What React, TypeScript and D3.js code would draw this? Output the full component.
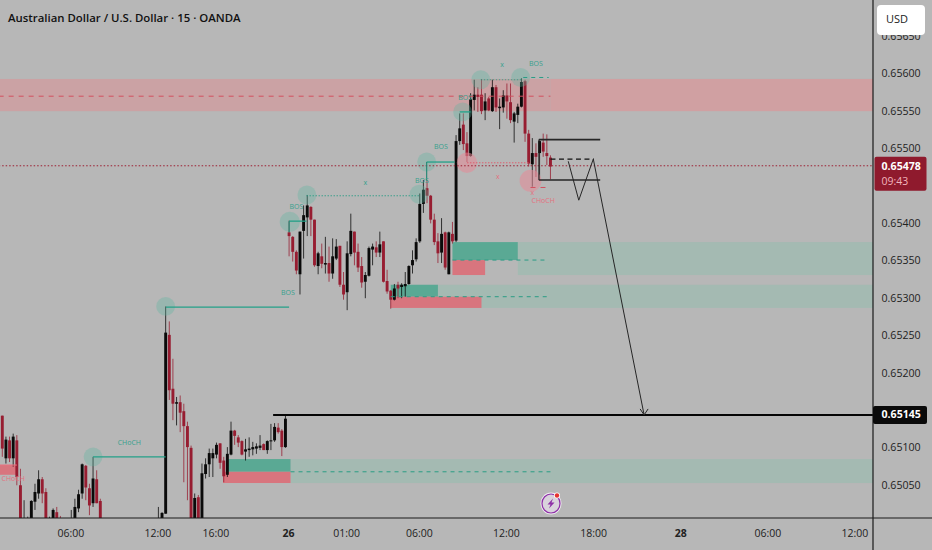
import { useEffect, useRef } from "react";
import * as d3 from "d3";

// 15 min bars, index 0 is the left edge of the picture. Prices in 1e-5 units.
const opens = [
  65144, 65087, 65111, 65087, 65111, 65051, 64985, 64990, 64995, 65029, 65040, 65059, 65042, 64990, 64995, 65015, 65000, 64970, 64975, 64985,
  64995, 65020, 65040, 65077, 65047, 65027, 65059, 65030, 64990, 64970, 64960, 64975, 64950, 64965, 64955, 64970, 64960, 64945, 64960, 64970,
  64965, 64975, 64970, 64985, 64995, 65013, 65252, 65180, 65160, 65162, 65150, 65130, 65101, 64995, 65035, 64995, 65066, 65079, 65087, 65092,
  65107, 65084, 65065, 65092, 65124, 65115, 65110, 65096, 65098, 65099, 65100, 65101, 65106, 65098, 65110, 65111, 65128, 65124, 65102, 65389,
  65383, 65363, 65333, 65391, 65409, 65423, 65406, 65344, 65357, 65346, 65348, 65334, 65354, 65371, 65319, 65309, 65360, 65390, 65363, 65344,
  65323, 65331, 65366, 65369, 65362, 65377, 65324, 65311, 65299, 65319, 65316, 65317, 65320, 65345, 65353, 65377, 65427, 65448, 65438, 65406,
  65377, 65362, 65389, 65333, 65387, 65378, 65511, 65533, 65508, 65491, 65566, 65573, 65573, 65552, 65568, 65551, 65583, 65555, 65556, 65572,
  65563, 65537, 65546, 65557, 65591, 65521, 65480, 65495, 65495, 65509, 65495, 65489,
];
const closes = [
  65100, 65112, 65087, 65116, 65062, 65000, 64995, 65000, 65030, 65042, 65059, 65040, 64998, 65000, 65018, 64995, 64990, 64980, 64985, 65000,
  65022, 65039, 65079, 65048, 65024, 65060, 65027, 64995, 64980, 64960, 64972, 64950, 64964, 64955, 64968, 64960, 64946, 64958, 64970, 64965,
  64975, 64968, 64982, 64995, 65014, 65255, 65178, 65160, 65162, 65148, 65130, 65102, 64995, 65034, 64995, 65067, 65079, 65094, 65094, 65105,
  65081, 65063, 65093, 65124, 65117, 65108, 65092, 65099, 65100, 65102, 65103, 65104, 65098, 65110, 65111, 65129, 65122, 65102, 65140, 65384,
  65363, 65338, 65390, 65412, 65425, 65406, 65345, 65361, 65347, 65348, 65334, 65357, 65370, 65319, 65306, 65361, 65391, 65362, 65342, 65322,
  65332, 65368, 65370, 65362, 65373, 65323, 65310, 65299, 65314, 65314, 65319, 65320, 65344, 65352, 65376, 65427, 65446, 65438, 65406, 65376,
  65361, 65387, 65342, 65389, 65377, 65511, 65528, 65507, 65491, 65567, 65573, 65570, 65551, 65564, 65552, 65583, 65556, 65557, 65572, 65564,
  65539, 65548, 65557, 65590, 65521, 65481, 65495, 65490, 65511, 65497, 65491, 65477,
];
const highs = [
  65144, 65116, 65116, 65120, 65118, 65073, 65031, 65009, 65031, 65053, 65071, 65062, 65047, 65009, 65020, 65022, 65010, 64990, 64992, 65018,
  65033, 65045, 65080, 65078, 65053, 65089, 65071, 65033, 64995, 64985, 64980, 64982, 64975, 64975, 64978, 64978, 64968, 64965, 64978, 64980,
  64985, 64985, 64990, 65022, 65015, 65290, 65270, 65220, 65169, 65171, 65160, 65136, 65104, 65040, 65038, 65080, 65087, 65100, 65100, 65108,
  65107, 65089, 65102, 65136, 65125, 65118, 65111, 65113, 65115, 65109, 65107, 65118, 65107, 65111, 65133, 65134, 65134, 65126, 65145, 65405,
  65384, 65365, 65390, 65425, 65439, 65424, 65406, 65363, 65374, 65383, 65370, 65381, 65380, 65371, 65336, 65377, 65414, 65390, 65374, 65356,
  65336, 65370, 65374, 65377, 65390, 65377, 65339, 65312, 65320, 65323, 65321, 65336, 65345, 65365, 65381, 65441, 65459, 65459, 65439, 65414,
  65388, 65408, 65390, 65390, 65403, 65519, 65548, 65548, 65523, 65575, 65593, 65583, 65594, 65575, 65570, 65593, 65586, 65568, 65579, 65588,
  65588, 65550, 65561, 65595, 65593, 65526, 65515, 65508, 65512, 65521, 65520, 65492,
];
const lows = [
  65089, 65080, 65082, 65076, 65051, 64990, 64980, 64980, 64980, 65018, 65033, 65027, 64985, 64980, 64985, 64985, 64980, 64960, 64965, 64975,
  64985, 65015, 65033, 65031, 65011, 65022, 65027, 64985, 64970, 64950, 64950, 64940, 64945, 64945, 64950, 64950, 64935, 64940, 64950, 64955,
  64955, 64960, 64960, 64975, 64985, 65013, 65165, 65138, 65131, 65122, 65055, 65031, 64985, 64985, 64985, 64985, 65060, 65062, 65062, 65087,
  65073, 65055, 65062, 65091, 65105, 65102, 65091, 65084, 65089, 65091, 65093, 65098, 65098, 65093, 65098, 65109, 65120, 65090, 65101, 65357,
  65350, 65333, 65306, 65354, 65384, 65384, 65343, 65333, 65341, 65334, 65323, 65327, 65352, 65316, 65299, 65285, 65357, 65345, 65336, 65315,
  65301, 65330, 65345, 65356, 65356, 65322, 65307, 65287, 65298, 65301, 65301, 65303, 65319, 65334, 65350, 65375, 65415, 65428, 65401, 65372,
  65348, 65348, 65339, 65333, 65374, 65376, 65506, 65499, 65483, 65490, 65552, 65550, 65547, 65539, 65551, 65550, 65550, 65527, 65549, 65541,
  65535, 65509, 65535, 65556, 65510, 65477, 65450, 65463, 65459, 65490, 65479, 65460,
];

const timeTicks = [19, 43, 59, 79, 95, 115, 139, 163, 187, 211, 235];
const timeLabels = ["06:00", "12:00", "16:00", "26", "01:00", "06:00", "12:00", "18:00", "28", "06:00", "12:00"];
const boldTimes = ["26", "28"];

const priceTicks = [65050, 65100, 65200, 65250, 65300, 65350, 65400, 65500, 65550, 65600, 65650];
const lastPrice = 65478;
const targetPrice = 65145;

// [bar from, bar to, price top, price bottom]
const lightZones = [
  [142, 240.5, 65376, 65332],
  [120, 240.5, 65319, 65288],
  [79.4, 240.5, 65086, 65054],
];
const greenBlocks = [
  [124, 142, 65376, 65352],
  [107, 120, 65319, 65303],
  [62.2, 79.4, 65086, 65069],
];
const redBlocks = [
  [124, 133, 65352, 65332],
  [107, 132, 65303, 65288],
  [60.8, 79.4, 65069, 65054],
  [-1, 3.8, 65078, 65065],
];
const supplyZone = [-1, 151, 65594, 65551];
const supplyExtension = [151, 240.5, 65594, 65551];

// [bar from, bar to, price]
const tealSolid = [
  [45.1, 79, 65289],
  [25, 45, 65089],
  [79, 83.8, 65404],
  [116.9, 124.6, 65483],
  [126, 129, 65550],
];
const tealDashed = [
  [124, 150, 65352],
  [107, 151, 65303],
  [79.4, 151, 65069],
  [143.5, 150.5, 65596],
];
const tealDotted = [
  [83.8, 115, 65438],
  [131.8, 143, 65593],
];
const redDotted = [[128, 145.5, 65482]];
const redDashed = [
  [-1, 151, 65571],
  [145.5, 150, 65449],
];
const redSolid = [[-1, 4, 65078]];

// [bar, price, radius in bars]
const tealCircles = [
  [45, 65290, 2.6],
  [25, 65089, 2.6],
  [79.2, 65403, 2.8],
  [83.9, 65439, 2.6],
  [114.8, 65440, 2.6],
  [116.9, 65483, 2.6],
  [126.8, 65550, 2.6],
  [131.8, 65593, 2.6],
  [142.8, 65596, 2.6],
];
const redCircles = [
  [128, 65482, 2.8],
  [145.5, 65458, 3],
];

// [label, bar, price]
const tealLabels = [
  ["BOS", 78.7, 65308],
  ["BOS", 81, 65423],
  ["BOS", 115.6, 65458],
  ["BOS", 120.8, 65503],
  ["BOS", 127.5, 65569],
  ["BOS", 147, 65614],
  ["CHoCH", 35, 65107],
  ["x", 100, 65455],
  ["x", 137.7, 65612],
];
const redLabels = [
  ["CHoCH", 3, 65059],
  ["CHoCH", 149, 65431],
  ["x", 136.5, 65463],
  ["x", 146, 65442],
];

// black drawing: rectangle, dashed midline, the projected swing and the arrow
const boxBars = [147.8, 164.7];
const boxPrices = [65513, 65459];
const midDash = [151, 163, 65487];
const swingBars = [155.9, 158.8, 162.8, 176.8];
const swingPrices = [65484, 65432, 65487, 65145];

const W = 932;
const H = 550;
const plotRight = 873;
const plotBottom = 518;

const App = () => {
  const svgRef = useRef<SVGSVGElement | null>(null);

  useEffect(() => {
    const svg = d3.select(svgRef.current);
    svg.selectAll("*").remove();

    const x = d3.scaleLinear().domain([0, 235]).range([2.3, 855.4]);
    const y = d3.scaleLinear().domain([65600, 65050]).range([74.5, 486]);
    const barStep = x(1) - x(0);
    const font = "'Open Sans', 'Noto Sans', sans-serif";

    svg.append("rect").attr("width", W).attr("height", H).attr("fill", "#b7b7b7");

    svg
      .append("defs")
      .append("clipPath")
      .attr("id", "plot")
      .append("rect")
      .attr("width", plotRight)
      .attr("height", plotBottom);

    const g = svg.append("g").attr("clip-path", "url(#plot)");

    const rects = (rows: number[][], fill: string, opacity = 1) => {
      g.append("g")
        .selectAll("rect")
        .data(rows)
        .enter()
        .append("rect")
        .attr("x", (d) => x(d[0]))
        .attr("width", (d) => x(d[1]) - x(d[0]))
        .attr("y", (d) => y(d[2]))
        .attr("height", (d) => y(d[3]) - y(d[2]))
        .attr("fill", fill)
        .attr("fill-opacity", opacity);
    };

    rects([supplyZone], "#d29a9c", 0.72);
    rects([supplyExtension], "#d69a9c", 0.8);
    rects(lightZones, "#9cbbb0", 0.72);
    rects(greenBlocks, "#5aa994");
    rects(redBlocks, "#d8757e");

    const circles = (rows: number[][], fill: string, opacity: number) => {
      g.append("g")
        .selectAll("circle")
        .data(rows)
        .enter()
        .append("circle")
        .attr("cx", (d) => x(d[0]))
        .attr("cy", (d) => y(d[1]))
        .attr("r", (d) => d[2] * barStep)
        .attr("fill", fill)
        .attr("fill-opacity", opacity);
    };

    // candles
    const bars = d3.range(opens.length);
    const upColor = "#0a0a0a";
    const downColor = "#971d31";
    const colorOf = (i: number) => (closes[i] >= opens[i] ? upColor : downColor);

    const candles = g.append("g");
    candles
      .selectAll("line")
      .data(bars)
      .enter()
      .append("line")
      .attr("x1", (i) => x(i))
      .attr("x2", (i) => x(i))
      .attr("y1", (i) => y(highs[i]))
      .attr("y2", (i) => y(lows[i]))
      .attr("stroke", colorOf)
      .attr("stroke-opacity", 0.78)
      .attr("stroke-width", 1);
    candles
      .selectAll("rect")
      .data(bars)
      .enter()
      .append("rect")
      .attr("x", (i) => x(i) - 1.45)
      .attr("width", 2.9)
      .attr("y", (i) => y(Math.max(opens[i], closes[i])))
      .attr("height", (i) => Math.max(1, Math.abs(y(opens[i]) - y(closes[i]))))
      .attr("fill", colorOf);

    circles(tealCircles, "#5cb5a0", 0.33);
    circles(redCircles, "#e58b97", 0.55);

    // levels
    const levels = (
      rows: number[][],
      color: string,
      width: number,
      dash: string | null,
      opacity = 1
    ) => {
      g.append("g")
        .selectAll("line")
        .data(rows)
        .enter()
        .append("line")
        .attr("x1", (d) => x(d[0]))
        .attr("x2", (d) => x(d[1]))
        .attr("y1", (d) => y(d[2]))
        .attr("y2", (d) => y(d[2]))
        .attr("stroke", color)
        .attr("stroke-width", width)
        .attr("stroke-dasharray", dash)
        .attr("stroke-opacity", opacity);
    };

    levels(tealSolid, "#23a088", 1.3, null);
    levels(tealDashed, "#2b9c85", 1, "4 4");
    levels(tealDotted, "#2b9c85", 1.1, "1.5 1.5", 0.85);
    levels(redSolid, "#e8717f", 1.1, null);
    levels(redDashed, "#d2505f", 1, "5 5");
    levels(redDotted, "#dd5f70", 1, "1.5 1.5");
    levels([[-1, 241, lastPrice]], "#9c1f33", 1, "1.5 2");
    levels([[74.6, 241, targetPrice]], "#050505", 2, null);

    // small steps dropping from the level lines
    const stepLines = [
      [79, 65404, 65389],
      [116.9, 65483, 65458],
    ];
    g.append("g")
      .selectAll("line")
      .data(stepLines)
      .enter()
      .append("line")
      .attr("x1", (d) => x(d[0]))
      .attr("x2", (d) => x(d[0]))
      .attr("y1", (d) => y(d[1]))
      .attr("y2", (d) => y(d[2]))
      .attr("stroke", "#1f8672")
      .attr("stroke-width", 1.1);

    const notes = (rows: (string | number)[][], color: string) => {
      g.append("g")
        .selectAll("text")
        .data(rows)
        .enter()
        .append("text")
        .attr("x", (d) => x(d[1] as number))
        .attr("y", (d) => y(d[2] as number))
        .attr("text-anchor", "middle")
        .attr("dominant-baseline", "middle")
        .attr("font-family", font)
        .attr("font-size", 7)
        .attr("fill", color)
        .text((d) => d[0] as string);
    };
    notes(tealLabels, "#36a08d");
    notes(redLabels, "#e3707f");

    // black drawing
    const ink = "#262626";
    levels(
      [
        [boxBars[0], boxBars[1], boxPrices[0]],
        [boxBars[0], boxBars[1], boxPrices[1]],
      ],
      ink,
      1.6,
      null
    );
    g.append("line")
      .attr("x1", x(boxBars[0]))
      .attr("x2", x(boxBars[0]))
      .attr("y1", y(boxPrices[0]))
      .attr("y2", y(boxPrices[1]))
      .attr("stroke", ink)
      .attr("stroke-width", 1);
    levels([midDash], "#111", 1.2, "5 3.5");

    const swing = d3
      .line<number>()
      .x((b) => x(b))
      .y((_, i) => y(swingPrices[i]));
    g.append("path")
      .attr("d", swing(swingBars))
      .attr("fill", "none")
      .attr("stroke", ink)
      .attr("stroke-width", 1);

    // arrow head at the end of the swing
    const tipX = x(swingBars[3]);
    const tipY = y(swingPrices[3]);
    g.append("path")
      .attr("d", `M${tipX - 4},${tipY - 6}L${tipX},${tipY}L${tipX + 4},${tipY - 6}`)
      .attr("fill", "none")
      .attr("stroke", ink)
      .attr("stroke-width", 1);

    // frame
    svg
      .append("line")
      .attr("x1", plotRight)
      .attr("x2", plotRight)
      .attr("y1", 0)
      .attr("y2", H)
      .attr("stroke", "#1a1a1a")
      .attr("stroke-width", 1.2);
    svg
      .append("line")
      .attr("x1", 0)
      .attr("x2", W)
      .attr("y1", plotBottom)
      .attr("y2", plotBottom)
      .attr("stroke", "#1a1a1a")
      .attr("stroke-width", 1.2);

    // price axis
    svg
      .append("g")
      .selectAll("text")
      .data(priceTicks)
      .enter()
      .append("text")
      .attr("x", 881.5)
      .attr("y", (d) => y(d))
      .attr("dominant-baseline", "middle")
      .attr("font-family", font)
      .attr("font-size", 10.6)
      .attr("fill", "#222")
      .text((d) => (d / 100000).toFixed(5));

    // time axis
    svg
      .append("g")
      .selectAll("text")
      .data(timeTicks)
      .enter()
      .append("text")
      .attr("x", (d) => x(d) - 0.5)
      .attr("y", 534)
      .attr("text-anchor", "middle")
      .attr("dominant-baseline", "middle")
      .attr("font-family", font)
      .attr("font-size", 10.5)
      .attr("font-weight", (_, i) => (boldTimes.includes(timeLabels[i]) ? 700 : 400))
      .attr("fill", "#222")
      .text((_, i) => timeLabels[i]);

    // target price tag
    svg
      .append("rect")
      .attr("x", plotRight)
      .attr("y", y(targetPrice) - 9)
      .attr("width", 54)
      .attr("height", 18)
      .attr("rx", 2)
      .attr("fill", "#0a0a0a");
    svg
      .append("text")
      .attr("x", 881.5)
      .attr("y", y(targetPrice))
      .attr("dominant-baseline", "middle")
      .attr("font-family", font)
      .attr("font-size", 10.6)
      .attr("font-weight", 700)
      .attr("fill", "#fff")
      .text((targetPrice / 100000).toFixed(5));

    // last price tag with countdown
    svg
      .append("rect")
      .attr("x", plotRight + 1.5)
      .attr("y", y(lastPrice) - 9)
      .attr("width", 52)
      .attr("height", 34)
      .attr("rx", 2)
      .attr("fill", "#8f1a2d");
    svg
      .append("text")
      .attr("x", 881.5)
      .attr("y", y(lastPrice) + 1)
      .attr("dominant-baseline", "middle")
      .attr("font-family", font)
      .attr("font-size", 10.6)
      .attr("font-weight", 700)
      .attr("fill", "#fff")
      .text((lastPrice / 100000).toFixed(5));
    svg
      .append("text")
      .attr("x", 881.5)
      .attr("y", y(lastPrice) + 16.5)
      .attr("dominant-baseline", "middle")
      .attr("font-family", font)
      .attr("font-size", 10.5)
      .attr("fill", "#f2b5bd")
      .text("09:43");

    // USD box sits over the top tick
    svg
      .append("rect")
      .attr("x", 877)
      .attr("y", 5)
      .attr("width", 48)
      .attr("height", 30)
      .attr("rx", 4)
      .attr("fill", "#fff");
    svg
      .append("text")
      .attr("x", 886)
      .attr("y", 20)
      .attr("dominant-baseline", "middle")
      .attr("font-family", font)
      .attr("font-size", 11)
      .attr("fill", "#222")
      .text("USD");

    // title
    svg
      .append("text")
      .attr("x", 8)
      .attr("y", 19)
      .attr("dominant-baseline", "middle")
      .attr("font-family", font)
      .attr("font-size", 11.4)
      .attr("font-weight", 600)
      .attr("fill", "#111")
      .text("Australian Dollar / U.S. Dollar · 15 · OANDA");

    // lightning badge
    const badge = svg.append("g").attr("transform", "translate(551,503.5)");
    badge.append("ellipse").attr("rx", 10.5).attr("ry", 11).attr("fill", "#efeaf0");
    badge
      .append("ellipse")
      .attr("rx", 9)
      .attr("ry", 9.5)
      .attr("fill", "#d9d2dc")
      .attr("stroke", "#8e2fa8")
      .attr("stroke-width", 1.2);
    badge
      .append("path")
      .attr("d", "M2,-5L-3.5,1H-0.5L-2,5L3.5,-1H0.5Z")
      .attr("fill", "#8e2fa8");
    badge.append("circle").attr("cx", 6).attr("cy", -8).attr("r", 3).attr("fill", "#fff");
    badge.append("circle").attr("cx", 6).attr("cy", -8).attr("r", 2.2).attr("fill", "#e6332f");
  }, []);

  return (
    <svg
      ref={svgRef}
      width={W}
      height={H}
      style={{ position: "absolute", left: 0, top: 0 }}
    ></svg>
  );
};

export default App;
